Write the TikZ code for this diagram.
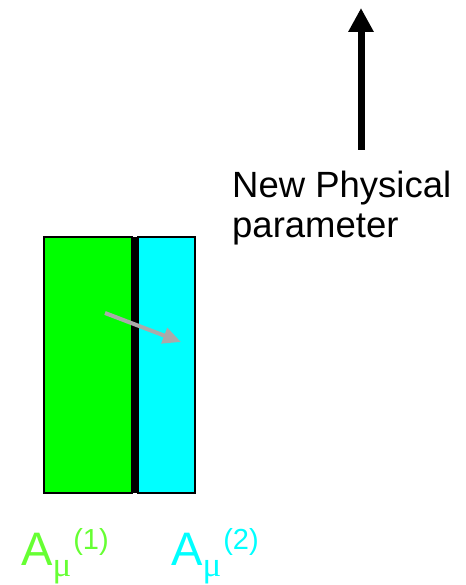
\documentclass[tikz,border=0pt]{standalone}
\usepackage{fontspec}
\setmainfont{Liberation Sans}
\newfontfamily\serifmu{Liberation Serif}
\usetikzlibrary{arrows.meta}
\definecolor{boxgreen}{HTML}{00FF00}
\definecolor{boxcyan}{HTML}{00FFFF}
\definecolor{lblgreen}{HTML}{66FF33}
\definecolor{arrgray}{HTML}{AAAAAA}
\newcommand{\amulabel}[1]{{\fontsize{47}{47}\selectfont A}\hspace{0pt}\raisebox{-11pt}{\serifmu\fontsize{35}{35}\selectfont μ}\hspace{2pt}\raisebox{16pt}{\fontsize{29}{29}\selectfont (#1)}}
\tikzset{
  panel/.style={draw=black, line width=1.5pt, inner sep=0pt, outer sep=0pt, anchor=north west},
  lbl/.style={inner sep=0pt, anchor=base west},
}
\begin{document}
\begin{tikzpicture}[x=1pt,y=-1pt]
\useasboundingbox (0,0) rectangle (465,585);
% panels
\node[panel, fill=boxgreen, minimum width=88pt, minimum height=256pt] (g) at (44,237) {};
\node[panel, fill=boxcyan, minimum width=57pt, minimum height=256pt] (c) at (138,237) {};
\node[fill=black, inner sep=0pt, minimum width=6pt, minimum height=256pt, anchor=north west] (bar) at (132,237) {};
% gray arrow
\coordinate (ga) at (105,313);
\coordinate (gb) at (181,342);
\draw[arrgray, line width=4pt, -{Triangle[width=16pt,length=18pt]}] (ga) -- (gb);
% black arrow
\coordinate (ba) at (361,150);
\coordinate (bb) at (361,8);
\draw[black, line width=7pt, -{Triangle[width=24pt,length=24pt]}] (ba) -- (bb);
% text
\node[inner sep=0pt, anchor=north west, align=left, font=\fontsize{36.5}{40}\selectfont] (t) at (232,171) {New Physical\\parameter};
% labels
\node[lbl, text=lblgreen] (l1) at (21,565) {\amulabel{1}};
\node[lbl, text=boxcyan] (l2) at (171,565) {\amulabel{2}};
\end{tikzpicture}
\end{document}
